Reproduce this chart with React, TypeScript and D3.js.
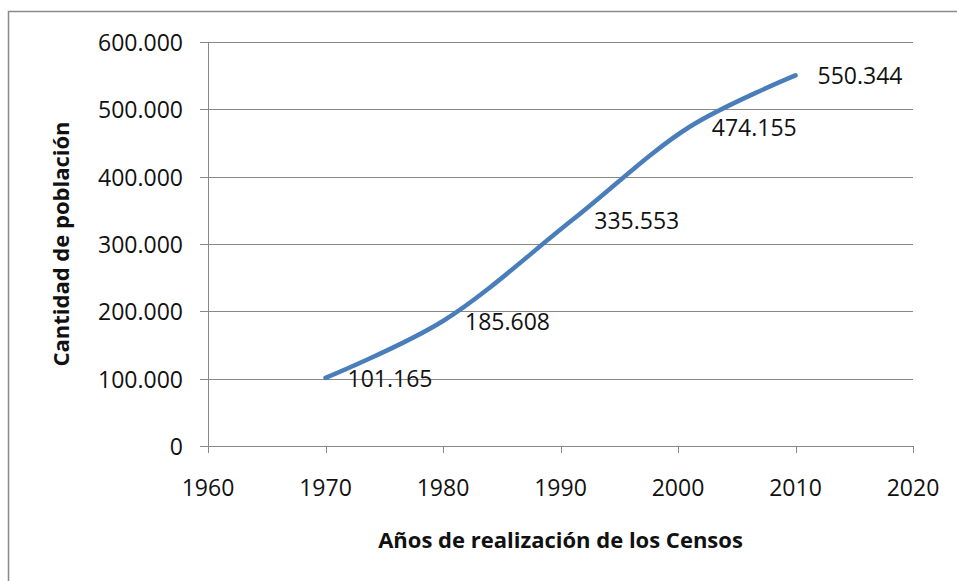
import React from "react";
import * as d3 from "d3";

const years = [1970, 1980, 1991, 2001, 2010];
const population = [101165, 185608, 335553, 474155, 550344];
const xTicks = [1960, 1970, 1980, 1990, 2000, 2010, 2020];
const yTicks = [0, 100000, 200000, 300000, 400000, 500000, 600000];
const xTitle = "Años de realización de los Censos";
const yTitle = "Cantidad de población";

const W = 957;
const H = 581;
const FONT = "'Open Sans', 'Liberation Sans', sans-serif";

const fmt = (v: number) => (v === 0 ? "0" : d3.format(",")(v).replace(/,/g, "."));

export default function App() {
  const x = d3.scaleLinear().domain([1960, 2020]).range([208, 913]);
  const y = d3.scaleLinear().domain([0, 600000]).range([446, 42]);
  const data = years.map((yr, i) => ({ yr, v: population[i] }));
  const line = d3
    .line<{ yr: number; v: number }>()
    .x((d) => x(d.yr))
    .y((d) => y(d.v))
    .curve(d3.curveCatmullRom.alpha(0.5));

  const grid = "#878787";
  return (
    <svg
      width={W}
      height={H}
      style={{ position: "absolute", left: 0, top: 0, background: "#fff" }}
      fontFamily={FONT}
    >
      <rect x={8.5} y={11.5} width={W + 20} height={H + 20} fill="#fff" stroke="#8a8a8a" strokeWidth={1.5} />
      {yTicks.map((t) => (
        <g key={t}>
          <line x1={200} x2={x(2020)} y1={Math.round(y(t)) + 0.5} y2={Math.round(y(t)) + 0.5} stroke={grid} strokeWidth={1} />
          <text x={183} y={y(t)} textAnchor="end" dominantBaseline="central" fontSize={23} fill="#111">
            {fmt(t)}
          </text>
        </g>
      ))}
      <line x1={x(1960) + 0.5} x2={x(1960) + 0.5} y1={y(600000)} y2={y(0) + 7} stroke={grid} strokeWidth={1} />
      {xTicks.map((t) => (
        <g key={t}>
          <line x1={Math.round(x(t)) + 0.5} x2={Math.round(x(t)) + 0.5} y1={y(0)} y2={y(0) + 7} stroke={grid} strokeWidth={1} />
          <text x={x(t)} y={487} textAnchor="middle" dominantBaseline="central" fontSize={23} fill="#111">
            {t}
          </text>
        </g>
      ))}
      <path d={line(data) || ""} fill="none" stroke="#4a7ebb" strokeWidth={4.5} strokeLinecap="round" />
      {data.map((d) => (
        <text key={d.yr} x={x(d.yr) + 22} y={y(d.v)} dominantBaseline="central" fontSize={23} fill="#111">
          {fmt(d.v)}
        </text>
      ))}
      <text x={(x(1960) + x(2020)) / 2} y={548} textAnchor="middle" fontSize={22} fontWeight="bold" fill="#111">
        {xTitle}
      </text>
      <text
        transform={`translate(69, ${(y(0) + y(600000)) / 2}) rotate(-90)`}
        textAnchor="middle"
        fontSize={22}
        fontWeight="bold"
        fill="#111"
      >
        {yTitle}
      </text>
    </svg>
  );
}
